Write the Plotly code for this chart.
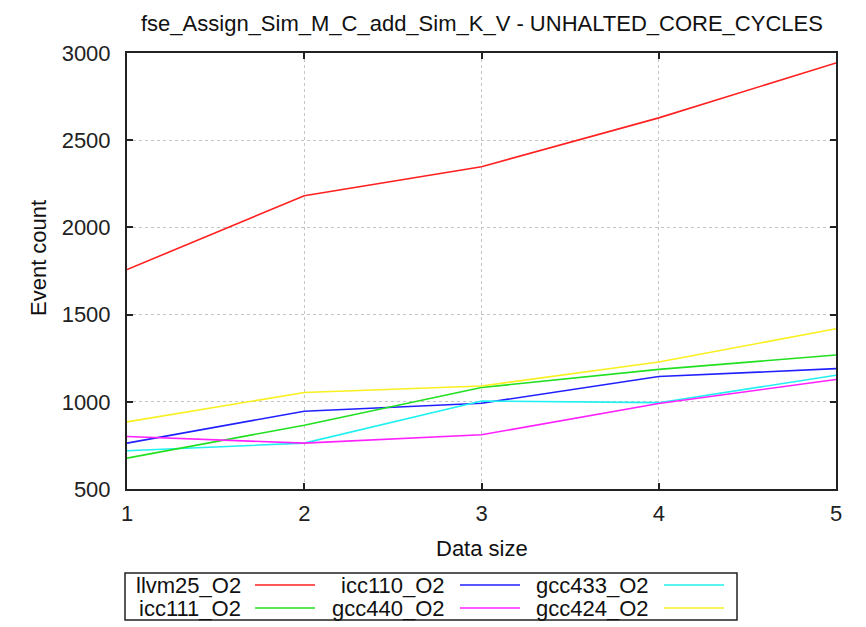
import plotly.graph_objects as go

# ---- data ----
data_size = [1, 2, 3, 4, 5]
series_names = ["llvm25_O2", "icc110_O2", "gcc433_O2", "icc111_O2", "gcc440_O2", "gcc424_O2"]
llvm25_O2 = [1758, 2182, 2348, 2628, 2943]
icc110_O2 = [763, 946, 992, 1145, 1190]
gcc433_O2 = [719, 763, 1005, 995, 1152]
icc111_O2 = [677, 866, 1082, 1186, 1268]
gcc440_O2 = [801, 763, 811, 990, 1128]
gcc424_O2 = [885, 1053, 1091, 1228, 1419]
y_ticks = [500, 1000, 1500, 2000, 2500, 3000]
x_ticks = [1, 2, 3, 4, 5]

series_values = [llvm25_O2, icc110_O2, gcc433_O2, icc111_O2, gcc440_O2, gcc424_O2]
colors = ["#ff2020", "#2020ff", "#20f0f0", "#20e020", "#ff20ff", "#f8f020"]

OFF = 8  # page body margin
W, H = 866 - OFF, 627 - OFF
L, R, T, B = 127 - OFF, 836 - OFF, 53 - OFF, 489 - OFF
FONT = "Liberation Sans, Arial, sans-serif"
FS = 22

def px(xp):
    return (xp - OFF - L) / (R - L)

def py(yp):
    return (B - (yp - OFF)) / (B - T)

fig = go.Figure()
for name, vals, c in zip(series_names, series_values, colors):
    fig.add_trace(go.Scatter(x=data_size, y=vals, mode="lines", name=name,
                             line=dict(color=c, width=1.6), showlegend=False))

axis_common = dict(
    showline=True, linecolor="#222222", linewidth=2, mirror="ticks",
    ticks="inside", ticklen=6, tickwidth=1.5, tickcolor="#222222",
    showgrid=True, gridcolor="#c4c4c4", griddash="dot", gridwidth=1,
    zeroline=False, tickfont=dict(family=FONT, size=FS, color="#222222"),
)

fig.update_xaxes(range=[1, 5], tickvals=x_ticks, ticktext=[str(v) for v in x_ticks],
                 ticklabelstandoff=4, **axis_common)
fig.update_yaxes(range=[500, 3000], tickvals=y_ticks, ticktext=[str(v) for v in y_ticks],
                 ticklabelstandoff=10, **axis_common)

annotations = [
    dict(text="fse_Assign_Sim_M_C_add_Sim_K_V - UNHALTED_CORE_CYCLES", xref="paper", yref="paper",
         x=0.5, y=py(OFF + 0.5), xanchor="center", yanchor="top", showarrow=False,
         font=dict(family=FONT, size=FS, color="#111111")),
    dict(text="Event count", xref="paper", yref="paper", x=px(38), y=py(258),
         xanchor="center", yanchor="middle", textangle=-90, showarrow=False,
         font=dict(family=FONT, size=FS, color="#111111")),
    dict(text="Data size", xref="paper", yref="paper", x=0.5, y=py(548),
         xanchor="center", yanchor="middle", showarrow=False,
         font=dict(family=FONT, size=FS, color="#111111")),
]

shapes = [
    dict(type="rect", xref="paper", yref="paper", x0=px(125), x1=px(737), y0=py(620), y1=py(573),
         line=dict(color="#222222", width=1.5), fillcolor="rgba(0,0,0,0)"),
]

# legend layout: 3 columns, 2 rows, text right-aligned before line sample
col_text_end = [243, 447, 651]
col_line = [(255, 315), (460, 520), (664, 724)]
row_y = [585, 608]
for i, (name, c) in enumerate(zip(series_names, colors)):
    r, ci = divmod(i, 3)
    annotations.append(dict(text=name, xref="paper", yref="paper", x=px(col_text_end[ci]), y=py(row_y[r]),
                            xanchor="right", yanchor="middle", showarrow=False,
                            font=dict(family=FONT, size=FS, color="#111111")))
    shapes.append(dict(type="line", xref="paper", yref="paper", x0=px(col_line[ci][0]), x1=px(col_line[ci][1]),
                       y0=py(row_y[r]), y1=py(row_y[r]), line=dict(color=c, width=1.6)))

fig.update_layout(
    width=W, height=H,
    margin=dict(l=L, r=W - R, t=T, b=H - B, pad=0),
    paper_bgcolor="white", plot_bgcolor="white",
    annotations=annotations, shapes=shapes, showlegend=False,
)

fig.write_html("out.html")
